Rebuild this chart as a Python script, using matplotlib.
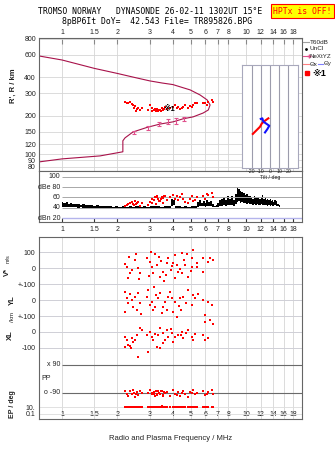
import numpy as np
import matplotlib.pyplot as plt
from matplotlib.lines import Line2D

plt.rcParams['font.family'] = ['Liberation Sans', 'DejaVu Sans']

W, H = 335, 451

# frequency axis
f_ticks = [1, 1.5, 2, 3, 4, 5, 6, 7, 8, 10, 12, 14, 16, 18]
f_labels = ["1", "1.5", "2", "3", "4", "5", "6", "7", "8", "10", "12", "14", "16", "18"]
h_ticks = [800, 600, 400, 300, 200, 150, 120, 100, 90, 80]

# model trace (MHz, km)
trace_f = [0.75, 1.0, 1.5, 2.0, 2.5, 3.0, 3.5, 4.0, 4.5, 4.96, 5.62, 6.14, 6.37, 6.23, 5.84,
           5.16, 4.54, 4.01, 3.41, 2.90, 2.43, 2.20, 2.14, 2.14, 1.61, 1.0, 0.75]
trace_h = [589, 548, 471, 430, 399, 376, 362, 352, 334, 320, 292, 267, 244, 223, 211,
           197, 190, 180, 173, 163, 150, 135, 128, 105, 97.5, 92.4, 87.5]

# NeXtYZ points
nxyz_f = [2.46, 2.93, 3.37, 3.77, 4.16, 4.60]
nxyz_h = [148, 161, 173, 180, 183, 190]
nxyz_err = [4, 5, 6, 8, 9, 8]

# echoes (*1)
echo_f = [2.20, 2.25, 2.29, 2.34, 2.39, 2.44, 2.49, 2.46, 2.55, 2.60, 2.65, 2.52, 2.71,
          2.94, 3.01, 3.07, 3.14, 3.20, 3.27, 3.34, 3.41, 3.48, 3.55, 3.63, 3.71, 3.86,
          4.02, 4.11, 4.20, 4.29, 4.38, 4.47, 4.56, 4.66, 4.86, 4.96, 5.06, 5.16, 5.28, 5.39,
          5.86, 5.98, 6.10, 6.23, 6.49, 6.57,
          3.10, 3.17, 3.24, 3.30, 3.37, 3.45, 3.52, 3.60]
echo_h = [259, 254, 251, 256, 248, 244, 240, 232, 226, 230, 223, 220, 232,
          223, 244, 230, 223, 226, 220, 217, 223, 230, 223, 236, 226, 232,
          236, 244, 230, 236, 226, 232, 236, 244, 230, 240, 236, 244, 251, 254,
          251, 254, 244, 259, 267, 256,
          218, 221, 219, 225, 221, 219, 226, 228]
echo_amp = [44, 46, 48, 50, 52, 47, 54, 45, 49, 51, 43, 47, 50,
            46, 52, 58, 55, 60, 62, 57, 54, 61, 59, 63, 56, 60,
            64, 58, 62, 55, 60, 66, 57, 52, 50, 58, 63, 54, 56, 60,
            62, 58, 66, 64, 68, 60,
            50, 56, 48, 61, 53, 57, 49, 62]
echo_pp = [-75, -95, -110, -80, -100, -70, -115, -90, -85, -105, -78, -96, -88,
           -92, -72, -100, -84, -110, -95, -80, -98, -76, -104, -90, -86, -112,
           -74, -95, -102, -82, -108, -90, -79, -97, -115, -85, -92, -70, -100, -88,
           -78, -105, -95, -84, -72, -100,
           -88, -96, -80, -104, -92, -76, -110, -86]
echo_ep = [12, 11, 13, 12, 14, 11, 12, 13, 11, 12, 14, 12, 11,
           13, 12, 11, 14, 12, 13, 11, 12, 15, 12, 13, 11, 12,
           14, 12, 11, 13, 12, 14, 11, 12, 13, 12, 11, 14, 12, 13,
           12, 11, 13, 14, 12, 11,
           12, 13, 11, 12, 14, 12, 13, 11]

# noise / amplitude trace (dBe)
dbe_f = [1.00, 1.03, 1.06, 1.09, 1.12, 1.15, 1.19, 1.23, 1.27, 1.31, 1.35, 1.40, 1.45, 1.50,
         1.56, 1.62, 1.68, 1.75, 1.82, 1.90, 1.98, 2.06, 2.15, 2.25, 2.35, 2.45, 2.56, 2.68,
         2.80, 2.93, 3.06, 3.20, 3.35, 3.50, 3.66, 3.82, 3.95, 4.02, 4.15, 4.32, 4.50, 4.70,
         4.90, 5.10, 5.30, 5.50, 5.62, 5.75, 5.88, 6.00, 6.15, 6.30, 6.45, 6.60, 6.75, 6.90,
         7.05, 7.20, 7.40, 7.60, 7.80, 8.00, 8.20, 8.40, 8.60, 8.80, 9.00, 9.15, 9.30, 9.50,
         9.70, 9.90, 10.1, 10.3, 10.5, 10.7, 10.9, 11.1, 11.3, 11.5, 11.7, 11.9, 12.1, 12.3,
         12.5, 12.7, 12.9, 13.1, 13.3, 13.5, 13.7, 13.9, 14.1, 14.3, 14.6, 14.9, 15.2]
dbe_lo = [42, 41, 42, 41, 41, 41, 41, 40, 41, 40, 40, 40, 40, 40,
          40, 40, 40, 40, 40, 40, 40, 40, 40, 40, 40, 40, 40, 40,
          40, 40, 40, 40, 40, 40, 40, 40, 44, 46, 40, 40, 40, 40,
          40, 40, 40, 42, 44, 43, 44, 42, 44, 43, 44, 42, 41, 41,
          41, 43, 44, 45, 44, 46, 45, 46, 44, 48, 52, 54, 50, 52,
          50, 49, 48, 50, 47, 48, 46, 47, 46, 47, 46, 45, 47, 46,
          45, 46, 45, 44, 46, 44, 45, 44, 44, 45, 44, 43, 42]
dbe_hi = [52, 49, 51, 48, 50, 47, 48, 47, 46, 47, 46, 45, 46, 44,
          45, 44, 43, 44, 43, 42, 43, 42, 43, 42, 43, 42, 43, 42,
          43, 42, 44, 43, 44, 42, 43, 44, 58, 55, 43, 44, 42, 43,
          42, 44, 43, 52, 56, 50, 54, 49, 55, 51, 53, 48, 44, 46,
          49, 55, 57, 60, 55, 62, 58, 63, 56, 66, 80, 76, 72, 70,
          68, 64, 66, 62, 63, 60, 58, 62, 60, 59, 61, 57, 60, 64,
          58, 59, 56, 57, 55, 58, 54, 56, 52, 55, 53, 48, 45]

# V*, YL, XL (m/s)
vstar_f = [2.20, 2.26, 2.34, 2.28, 2.40, 2.49, 2.52, 2.59, 2.65, 2.90, 3.01, 3.08, 3.12,
           3.28, 3.41, 3.54, 3.72, 3.77, 4.11, 4.01, 4.21, 4.49, 4.27, 4.49, 4.66, 4.84,
           5.09, 5.16, 5.41, 5.84, 6.37, 6.61, 5.84, 5.09, 3.20, 3.35, 3.60, 2.95, 4.60,
           3.90, 4.10, 5.40, 3.45, 3.95, 4.35, 2.30, 2.62, 3.05, 3.65, 4.80, 5.00, 6.20]
vstar_v = [25, 6, -31, -62, -12, 50, 87, 0, -31, 62, 37, 6, -31,
           19, -56, -25, 31, 62, 81, 31, 19, 94, -25, -31, 19, -56,
           62, 112, 6, 62, 62, 50, -25, 6, 88, 70, -80, -50, 50,
           -10, -60, 30, 45, 10, -5, 70, -70, 100, -45, 90, -20, 35]
yl_f = [2.20, 2.26, 2.28, 2.20, 2.40, 2.43, 2.49, 2.56, 2.59, 2.65, 2.90, 2.93, 3.08,
        3.12, 3.20, 3.32, 3.41, 3.54, 3.63, 3.72, 3.77, 3.96, 4.11, 4.01, 4.21, 4.38,
        4.54, 4.84, 5.09, 5.16, 5.28, 5.84, 5.98, 6.22, 6.53, 3.00, 3.25, 3.50, 3.85,
        4.30, 4.70, 2.35, 2.70, 3.15, 4.45, 5.50]
yl_v = [50, 12, -19, -75, 0, -44, 19, -62, 44, -19, 19, 62, -12,
        -62, -44, 12, 44, -44, -12, -62, 19, 12, -12, -75, -106, 12,
        19, 62, -31, 31, 12, 0, -94, -12, -31, -30, 30, -80, 50,
        -40, -20, 35, -90, 80, -60, 40]
xl_f = [2.20, 2.26, 2.28, 2.20, 2.34, 2.40, 2.43, 2.49, 2.65, 2.72, 2.90, 3.01, 3.08,
        3.12, 3.28, 3.32, 3.41, 3.54, 3.63, 3.72, 3.77, 2.59, 2.93, 3.41, 3.96, 4.11,
        4.27, 4.49, 4.54, 4.84, 5.09, 5.16, 5.84, 5.98, 6.22, 6.37, 6.61, 5.98, 2.38,
        3.20, 3.55, 4.00, 4.40, 4.70, 2.55, 3.90, 5.30]
xl_v = [-31, -50, -81, -94, -87, -37, -62, -50, 25, 12, -19, 0, -31,
        -50, -94, -19, 25, -6, -50, 12, -31, -156, -125, -100, -6, -31,
        -19, 0, -37, 12, -31, -50, -19, -50, -37, 75, 50, 65, -100,
        -10, -70, -60, -20, -5, -20, 20, -10]

# tilt (deg vs km)
tx_deg = [-18.6, -10.8, -8.9, -5.4, -1.8]
tx_h = [145, 165, 175, 184, 192]
ty_deg = [-5.4, -2.9, -0.8, -4.3, -7.2, -8.3, -10.0]
ty_h = [149, 158, 168, 175, 181, 192, 190]


def fx(x):
    return x / W


def fy(y):
    return 1 - y / H


# bottom panel: one axis, bands stacked with offsets (6.25 units per pixel)
V_OFF, YL_OFF, XL_OFF = 400, 200, 0


def pp_u(v):
    return -293.5 + 0.972 * np.asarray(v)


def ep_u(v):
    return -469 + (np.log10(v) - 1) * 21.5


fig = plt.figure(figsize=(W / 100, H / 100), dpi=100)
ax_h = fig.add_axes([fx(39), fy(171), 263 / W, 133 / H])
ax_d = fig.add_axes([fx(39), fy(222), 263 / W, 51 / H])
ax_b = fig.add_axes([fx(39), fy(419), 263 / W, 182 / H])

grid_c = '#d6d6d6'
spine_c = '#666666'
txt_c = '#222222'
red = '#ff0000'

for ax in (ax_h, ax_d, ax_b):
    ax.set_xscale('log')
    ax.set_xlim(0.75, 20.1)
    ax.set_xticks(f_ticks)
    ax.set_xticklabels(f_labels)
    ax.xaxis.set_minor_locator(plt.NullLocator())
    ax.tick_params(labelsize=5, labelcolor=txt_c, length=0)
    for s in ax.spines.values():
        s.set_color(spine_c)
        s.set_linewidth(0.8)

# ---- height panel
ax_h.set_yscale('log')
ax_h.set_ylim(74.3, 814)
ax_h.set_yticks(h_ticks)
ax_h.set_yticklabels([str(v) for v in h_ticks])
ax_h.yaxis.set_minor_locator(plt.NullLocator())
ax_h.tick_params(axis='x', top=True, labeltop=True, bottom=False, labelbottom=False,
                 direction='in', length=4, color='#888888', pad=1.5)
ax_h.tick_params(axis='y', pad=2.2)
ax_h.grid(True, color=grid_c, lw=0.6)
ax_h.set_axisbelow(True)
ax_h.plot(trace_f, trace_h, color='#a8124a', lw=0.8)
ax_h.errorbar(nxyz_f, nxyz_h, yerr=nxyz_err, fmt='none', ecolor='#e0508c',
              elinewidth=0.8, capsize=1.3, capthick=0.8)
ax_h.plot(echo_f, echo_h, 's', color=red, ms=2.0, mew=0)
ax_h.text(3.82, 223, '※1', fontsize=5.5, color='black', fontweight='bold',
          ha='center', va='center')

# tilt inset
ax_t = fig.add_axes([fx(242), fy(168), 56 / W, 103 / H])
ax_t.set_yscale('log')
ax_t.set_ylim(78.6, 501)
ax_t.set_xlim(-30.3, 30.3)
ax_t.set_yticks([])
ax_t.minorticks_off()
ax_t.set_xticks([-20, -10, 0, 10, 20])
ax_t.set_xticklabels(['-20', '-10', '0', '10', '20'])
ax_t.tick_params(labelsize=3.8, length=0, pad=0.8, labelcolor=txt_c)
ax_t.grid(axis='x', color='#9c9cac', lw=0.8)
ax_t.set_xlabel('Tilt / deg', fontsize=3.8, labelpad=0.5, color=txt_c)
for s in ax_t.spines.values():
    s.set_color('#a8a8bc')
    s.set_linewidth(0.8)
ax_t.plot(tx_deg, tx_h, color=red, lw=1.5)
ax_t.plot(ty_deg, ty_h, color='#1010ff', lw=1.5)

# ---- dBe panel
ax_d.set_ylim(12.2, 111.7)
ax_d.set_yticks([])
ax_d.tick_params(axis='x', direction='in', length=3, color='#333333', pad=3)
ax_d.hlines([100, 80, 60, 40], 1.0, 20.1, color='#a8a8a8', lw=0.7)
ax_d.hlines(20, 1.0, 20.1, color='#b4b4ec', lw=1.0)
ax_d.fill_between(dbe_f, dbe_lo, dbe_hi, step='mid', color='black', lw=0)
ax_d.plot(echo_f, echo_amp, 's', color=red, ms=2.0, mew=0)
for v, lab in zip([100, 80, 60, 40, 20], ['100', 'dBe 80', '60', '40', 'dBn 20']):
    ax_d.text(0.98, v, lab, ha='right', va='center', fontsize=5, color=txt_c)

# ---- bottom panel
b_ticks = [500, 400, 300, 200, 100, 0, -100, ep_u(10), ep_u(0.1)]
b_labels = ['100', '0', '+-100', '0', '+-100', '0', '-100', '10.', '0.1']
ax_b.set_ylim(-544, 594)
ax_b.set_yticks(b_ticks)
ax_b.set_yticklabels(b_labels)
ax_b.tick_params(axis='y', pad=2.5)
ax_b.tick_params(axis='x', pad=-5.5)
ax_b.grid(axis='x', color=grid_c, lw=0.6)
ax_b.set_axisbelow(True)
ax_b.hlines([500, 400, 300, 200, 100, 0, -100], 0.75, 20.1, color='#cfcfd6', lw=0.7)
ax_b.hlines([pp_u(90), pp_u(-90)], 1.0, 20.1, color='#6a6a6a', lw=0.8)
ax_b.hlines([ep_u(10), ep_u(0.1)], 0.75, 20.1, color='#dcdcdc', lw=0.6)
ax_b.text(0.98, pp_u(90), 'x 90', ha='right', va='center', fontsize=5, color=txt_c)
ax_b.text(0.98, pp_u(-90), 'o -90', ha='right', va='center', fontsize=5, color=txt_c)
ax_b.text(0.818, (332 - 379) * 6.25, 'PP', ha='center', va='center', fontsize=5, color=txt_c)

ax_b.plot(vstar_f, np.array(vstar_v) + V_OFF, 's', color=red, ms=2.0, mew=0)
ax_b.plot(yl_f, np.array(yl_v) + YL_OFF, 's', color=red, ms=2.0, mew=0)
ax_b.plot(xl_f, np.array(xl_v) + XL_OFF, 's', color=red, ms=2.0, mew=0)
ax_b.plot(echo_f, pp_u(echo_pp), 's', color=red, ms=2.0, mew=0)
ax_b.plot(echo_f, ep_u(np.array(echo_ep)), 's', color=red, ms=2.0, mew=0)

# ---- side labels
fig.text(fx(13), fy(86), "R', R / km", rotation=90, ha='center', va='center',
         fontsize=5.5, fontweight='bold', color=txt_c)
fig.text(fx(7), fy(272), 'V*', rotation=90, ha='center', va='center', fontsize=5.5,
         fontweight='bold', color=txt_c)
fig.text(fx(8), fy(259), 'm/s', rotation=90, ha='center', va='center', fontsize=4, color=txt_c)
fig.text(fx(12), fy(300), 'YL', rotation=90, ha='center', va='center', fontsize=5.5,
         fontweight='bold', color=txt_c)
fig.text(fx(13), fy(317), '/km', rotation=90, ha='center', va='center', fontsize=4.5, color=txt_c)
fig.text(fx(10), fy(335), 'XL', rotation=90, ha='center', va='center', fontsize=5.5,
         fontweight='bold', color=txt_c)
fig.text(fx(12), fy(404), 'EP / deg', rotation=90, ha='center', va='center', fontsize=5,
         fontweight='bold', color=txt_c)
fig.text(fx(171), fy(439), 'Radio and Plasma Frequency / MHz', ha='center', va='center',
         fontsize=5.5, color=txt_c)

# ---- titles
fig.text(fx(150), fy(12), 'TROMSO NORWAY   DYNASONDE 26-02-11 1302UT 15°E', ha='center',
         va='center', family='DejaVu Sans Mono', fontsize=5.9, color='black')
fig.text(fx(157), fy(21), '8pBP6It DoY=  42.543 File= TR895826.BPG', ha='center',
         va='center', family='DejaVu Sans Mono', fontsize=5.9, color='black')
fig.text(fx(302.5), fy(11), 'HPTx is OFF!', ha='center', va='center',
         family='DejaVu Sans Mono', fontsize=5.9, color='red',
         bbox=dict(boxstyle='square,pad=0.25', fc='#ffff00', ec='red', lw=0.8))

# ---- legend at right
fig.add_artist(Line2D([fx(303), fx(309)], [fy(42), fy(42)], color='#a0a0a0', lw=0.8))
fig.text(fx(310), fy(42), 'T60dB', va='center', fontsize=4.6, color=txt_c)
fig.add_artist(Line2D([fx(306)], [fy(49)], marker='.', color='black', ms=2, lw=0))
fig.text(fx(310), fy(49), 'UnCl', va='center', fontsize=4.6, color=txt_c)
fig.add_artist(Line2D([fx(303), fx(309)], [fy(56), fy(56)], color='#e0508c', lw=0.8,
                      marker='+', markevery=[1], ms=3))
fig.text(fx(309.5), fy(56), 'NeXtYZ', va='center', fontsize=4.4, color=txt_c)
fig.add_artist(Line2D([fx(303), fx(309)], [fy(64), fy(64)], color='#ff8080', lw=0.8))
fig.text(fx(309.5), fy(64), 'Θx', va='center', fontsize=4.4, color=txt_c)
fig.add_artist(Line2D([fx(318), fx(323)], [fy(64), fy(64)], color='#8080ff', lw=0.8))
fig.text(fx(323.5), fy(64), 'Θy', va='center', fontsize=4.4, color=txt_c)
fig.add_artist(Line2D([fx(307)], [fy(73)], marker='s', color=red, ms=2.5, lw=0))
fig.text(fx(312), fy(73), '※1', va='center', fontsize=6.5, fontweight='bold', color='black')

fig.savefig('out.png', dpi=100)
